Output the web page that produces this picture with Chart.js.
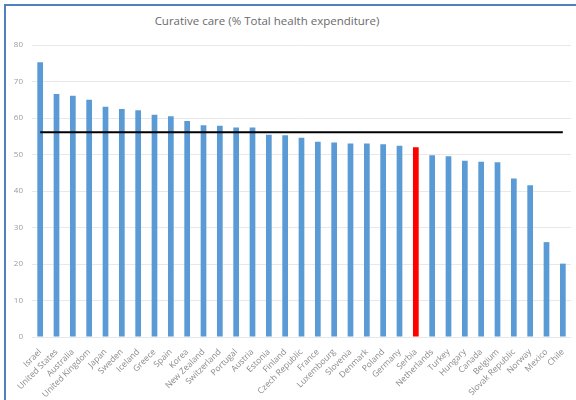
<!DOCTYPE html>
<html lang="en">
<head>
    <meta charset="UTF-8">
    <title>Curative care</title>
    <script src="https://cdn.jsdelivr.net/npm/chart.js@4.4.1/dist/chart.umd.min.js"></script>
    <style>
        body { margin: 0; background: #fff; }
        #wrap { position: relative; width: 576px; height: 400px; overflow: hidden; }
        #frame { position: absolute; left: 4px; top: 4px; width: 620px; height: 440px;
                 border-left: 2px solid #4f81bd; border-top: 2px solid #4f81bd; }
        #title { position: absolute; left: 0; top: 13px; width: 534px; text-align: center;
                 font-family: "Open Sans", sans-serif; font-size: 11.5px; color: #6a6a6a; }
        canvas { position: absolute; left: 0; top: 0; }
    </style>
</head>
<body>
<div id="wrap">
    <div id="frame"></div>
    <div id="title">Curative care (% Total health expenditure)</div>
    <canvas id="myChart" width="576" height="400"></canvas>
</div>

<script>
    const countries = ['Israel', 'United States', 'Australia', 'United Kingdom', 'Japan', 'Sweden',
        'Iceland', 'Greece', 'Spain', 'Korea', 'New Zealand', 'Switzerland', 'Portugal', 'Austria',
        'Estonia', 'Finland', 'Czech Republic', 'France', 'Luxembourg', 'Slovenia', 'Denmark',
        'Poland', 'Germany', 'Serbia', 'Netherlands', 'Turkey', 'Hungary', 'Canada', 'Belgium',
        'Slovak Republic', 'Norway', 'Mexico', 'Chile'];
    const curativeCare = [75.3, 66.6, 66.1, 65.0, 63.1, 62.5, 62.1, 60.9, 60.5, 59.2, 58.0, 57.9,
        57.4, 57.4, 55.4, 55.3, 54.6, 53.5, 53.3, 53.0, 53.0, 52.8, 52.4, 52.0, 49.8, 49.5, 48.3,
        48.0, 47.9, 43.4, 41.6, 26.0, 20.1];
    const average = 56.1;
    const yTicks = [0, 10, 20, 30, 40, 50, 60, 70, 80];

    const barColors = countries.map(c => c === 'Serbia' ? '#ff0000' : '#5b9bd5');

    const ctx = document.getElementById('myChart').getContext('2d');
    const myChart = new Chart(ctx, {
        type: 'bar',
        data: {
            labels: countries,
            datasets: [{
                type: 'line',
                data: countries.map(() => average),
                borderColor: '#000000',
                borderWidth: 2,
                pointRadius: 0,
                fill: false
            }, {
                data: curativeCare,
                backgroundColor: barColors,
                barPercentage: 0.35,
                categoryPercentage: 1
            }]
        },
        options: {
            responsive: false,
            animation: false,
            layout: { padding: { top: 45, right: 5, left: 0, bottom: 0 } },
            plugins: {
                legend: { display: false },
                tooltip: { enabled: false }
            },
            scales: {
                x: {
                    grid: { display: false },
                    border: { display: false },
                    ticks: {
                        maxRotation: 45,
                        minRotation: 45,
                        autoSkip: false,
                        padding: 2,
                        color: '#8a8a8a',
                        font: { family: 'Open Sans', size: 8.5 }
                    },
                    afterFit: scale => { scale.height = 63; }
                },
                y: {
                    min: 0,
                    max: 80,
                    afterBuildTicks: scale => { scale.ticks = yTicks.map(v => ({ value: v })); },
                    grid: { color: '#e8e8e8', drawTicks: false },
                    border: { display: false },
                    ticks: {
                        padding: 9,
                        color: '#9a9a9a',
                        font: { family: 'Open Sans', size: 8 }
                    },
                    afterFit: scale => { scale.width = 32; }
                }
            }
        }
    });
</script>
</body>
</html>
